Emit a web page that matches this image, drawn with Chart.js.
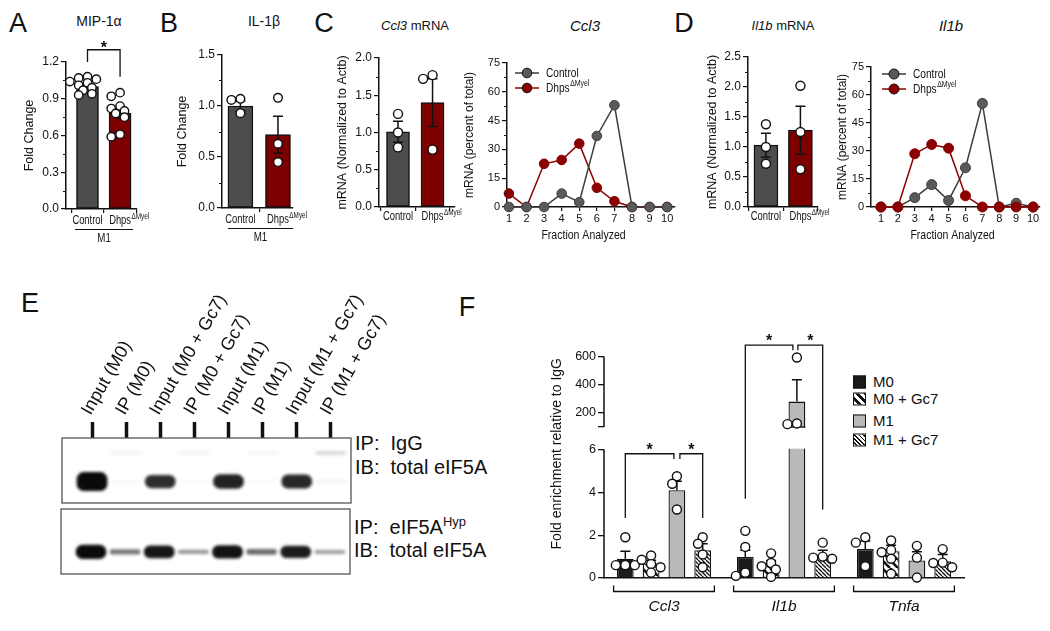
<!DOCTYPE html>
<html>
<head>
<meta charset="utf-8">
<title>Dhps / eIF5A figure</title>
<script src="https://cdn.jsdelivr.net/npm/chart.js@4.4.1/dist/chart.umd.min.js"></script>
<style>
  body { margin: 0; width: 1050px; height: 631px; background: #fff; position: relative; overflow: hidden;
         font-family: Arial, "Liberation Sans", Helvetica, sans-serif; color: #111; }
  canvas { position: absolute; }
  .t { position: absolute; white-space: nowrap; line-height: 1; transform: translate(-50%, -50%); }
  .l { position: absolute; white-space: nowrap; line-height: 1; transform: translateY(-50%); }
  .letter { font-size: 27px; }
  .sup { font-size: 13px; position: relative; top: -8px; }
  .leg { position: absolute; left: 853px; font-size: 15px; line-height: 1; transform: translateY(-50%); white-space: nowrap; }
  .sw { display: inline-block; width: 13px; height: 13px; border: 1.3px solid #111; box-sizing: border-box;
        vertical-align: -2px; margin-right: 7px; }
</style>
</head>
<body>
<div class="t letter" style="left:18px;top:23px">A</div>
<div class="t letter" style="left:169px;top:23px">B</div>
<div class="t letter" style="left:324px;top:23px">C</div>
<div class="t letter" style="left:684px;top:23px">D</div>
<div class="t letter" style="left:30px;top:303px">E</div>
<div class="t letter" style="left:467px;top:307px">F</div>

<div class="t" style="left:99px;top:21px;font-size:14px">MIP-1α</div>
<div class="t" style="left:264px;top:21px;font-size:14px">IL-1β</div>
<div class="t" style="left:415px;top:25px;font-size:13px"><i>Ccl3</i> mRNA</div>
<div class="t" style="left:585px;top:25px;font-size:15px"><i>Ccl3</i></div>
<div class="t" style="left:783px;top:25px;font-size:13px"><i>Il1b</i> mRNA</div>
<div class="t" style="left:951px;top:25px;font-size:15px"><i>Il1b</i></div>

<div class="l" style="left:355px;top:443px;font-size:20px">IP:&nbsp;&nbsp;IgG</div>
<div class="l" style="left:355px;top:467px;font-size:20px">IB:&nbsp;&nbsp;total eIF5A</div>
<div class="l" style="left:354px;top:527px;font-size:20px">IP:&nbsp;&nbsp;eIF5A<span class="sup">Hyp</span></div>
<div class="l" style="left:354px;top:550px;font-size:20px">IB:&nbsp;&nbsp;total eIF5A</div>

<div class="leg" style="top:381px"><span class="sw" style="background:#1a1a1a"></span>M0</div>
<div class="leg" style="top:398px"><span class="sw" style="background:repeating-linear-gradient(45deg,#fff 0 3px,#111 3px 5.5px)"></span>M0 + Gc7</div>
<div class="leg" style="top:420px"><span class="sw" style="background:#b9b9b9"></span>M1</div>
<div class="leg" style="top:439px"><span class="sw" style="background:repeating-linear-gradient(45deg,#fff 0 1.6px,#111 1.6px 2.9px)"></span>M1 + Gc7</div>

<canvas id="cA" width="150" height="210" style="left:14px;top:36px"></canvas>
<canvas id="cB" width="150" height="215" style="left:170px;top:30px"></canvas>
<canvas id="cC1" width="148" height="205" style="left:330px;top:32px"></canvas>
<canvas id="cC2" width="225" height="205" style="left:455px;top:40px"></canvas>
<canvas id="cD1" width="140" height="205" style="left:700px;top:31px"></canvas>
<canvas id="cD2" width="218" height="201" style="left:830px;top:44px"></canvas>
<canvas id="cE1" width="420" height="236" style="left:20px;top:270px"></canvas>
<canvas id="cE2" width="420" height="72" style="left:20px;top:505px"></canvas>
<canvas id="cF" width="440" height="300" style="left:530px;top:320px"></canvas>

<script>
Chart.defaults.font.family = 'Arial, "Liberation Sans", Helvetica, sans-serif';
Chart.defaults.color = '#111';
const INK = '#111';
const SQUEEZE = 0.78; // the figure's small labels are set in a condensed face

// ---------- data ----------
const barLabels = ['Control', 'Dhps'];
const barLabelSup = ['', 'ΔMyel'];

// A: MIP-1α protein, fold change
const mipMean = [1.00, 0.78];
const mipSem = [0.02, 0.035];
const mipControl = [1.08, 1.07, 1.06, 1.04, 1.03, 1.01, 0.99, 0.97, 0.94, 0.93];
const mipDhps = [0.95, 0.92, 0.84, 0.82, 0.80, 0.78, 0.75, 0.61, 0.59];

// B: IL-1β protein, fold change
const il1Mean = [1.00, 0.72];
const il1Sem = [0.05, 0.18];
const il1Control = [1.07, 1.06, 0.93];
const il1Dhps = [1.08, 0.63, 0.45];

// C: Ccl3 mRNA normalized to Actb
const ccl3Mean = [1.01, 1.40];
const ccl3Sem = [0.14, 0.32];
const ccl3Control = [1.25, 1.00, 0.80];
const ccl3Dhps = [1.77, 1.72, 0.77];

// D: Il1b mRNA normalized to Actb
const il1bMean = [1.03, 1.28];
const il1bSem = [0.20, 0.40];
const il1bControl = [1.38, 1.00, 0.72];
const il1bDhps = [2.02, 1.25, 0.63];

// polysome fractions, mRNA percent of total
const seriesNames = ['Control', 'Dhps'];
const fractions = [1, 2, 3, 4, 5, 6, 7, 8, 9, 10];
const ccl3FracControl = [0, 0, 0, 7, 2.5, 37, 53, 0, 0, 0];
const ccl3FracDhps = [7, 0, 22.5, 24.5, 33, 10, 3, 0, 0, 0];
const il1bFracControl = [0, 0, 5, 12, 3.5, 21, 55.5, 0, 2, 0];
const il1bFracDhps = [0, 0, 28.5, 33.5, 31.5, 6, 0, 0, 0, 0];

// E: blot lanes and relative band darkness
const lanes = ['Input (M0)', 'IP (M0)', 'Input (M0 + Gc7)', 'IP (M0 + Gc7)',
               'Input (M1)', 'IP (M1)', 'Input (M1 + Gc7)', 'IP (M1 + Gc7)'];
const igGBand = [1.0, 0.03, 0.86, 0.02, 0.9, 0.02, 0.88, 0.06];
const igGFaint = [0, 0.06, 0, 0.05, 0, 0.04, 0, 0.15];
const hypBand = [1.0, 0.55, 0.95, 0.42, 0.97, 0.6, 0.93, 0.4];

// F: fold enrichment relative to IgG
const enrichGenes = ['Ccl3', 'Il1b', 'Tnfa'];
const enrichSeries = ['M0', 'M0 + Gc7', 'M1', 'M1 + Gc7'];
const m0Mean = [0.9, 0.98, 1.35];
const m0Sem = [0.35, 0.32, 0.38];
const m0gMean = [0.68, 0.62, 1.25];
const m0gSem = [0.15, 0.2, 0.28];
const m1Mean = [4.1, 280, 0.82];
const m1Sem = [0.42, 155, 0.4];
const m1gMean = [1.3, 1.05, 0.78];
const m1gSem = [0.3, 0.25, 0.32];
const m0Pts = [[1.9, 0.6, 0.6, 0.6], [2.2, 1.45, 0.25, 0.1], [1.9, 1.65, 0.55]];
const m0gPts = [[1.05, 0.85, 0.65, 0.5, 0.25], [1.15, 0.7, 0.55, 0.4, 0.05], [1.75, 1.3, 1.2, 0.9, 0.2]];
const m1Pts = [[4.75, 4.4, 3.2], [593, 125, 120], [1.5, 0.95, 0.02]];
const m1gPts = [[1.9, 1.6, 1.1, 0.5], [1.65, 1.0, 0.95, 0.9], [1.35, 0.72, 0.7, 0.5]];

// ---------- drawing helpers ----------
function swarm(ys, r, pack) {
  const placed = [], out = [];
  ys.forEach((y, i) => {
    for (let k = 0; k < 40; k++) {
      const d = Math.ceil(k / 2) * r * 1.05 * (k % 2 ? -1 : 1);
      if (placed.every(p => Math.hypot(p.x - d, p.y - y) >= r * pack)) {
        placed.push({x: d, y}); out[i] = d; break;
      }
    }
  });
  return out;
}

function drawError(ctx, x, py, mean, sem, cap, both) {
  const yt = py(mean + sem), yb = both ? py(mean - sem) : py(mean);
  ctx.strokeStyle = INK; ctx.lineWidth = 1.5;
  ctx.beginPath();
  ctx.moveTo(x, yb); ctx.lineTo(x, yt);
  ctx.moveTo(x - cap, yt); ctx.lineTo(x + cap, yt);
  if (both) { ctx.moveTo(x - cap, yb); ctx.lineTo(x + cap, yb); }
  ctx.stroke();
}

function drawDots(ctx, x, py, vals, r, pack) {
  const ys = vals.map(py);
  const dx = swarm(ys, r, pack);
  ctx.fillStyle = '#fff'; ctx.strokeStyle = INK; ctx.lineWidth = 1.4;
  ys.forEach((y, i) => {
    ctx.beginPath(); ctx.arc(x + dx[i], y, r, 0, Math.PI * 2); ctx.fill(); ctx.stroke();
  });
}

function drawSig(ctx, x1, x2, yTop, yL, yR, starDy) {
  ctx.strokeStyle = INK; ctx.lineWidth = 1.3;
  ctx.beginPath();
  ctx.moveTo(x1, yL); ctx.lineTo(x1, yTop); ctx.lineTo(x2, yTop); ctx.lineTo(x2, yR);
  ctx.stroke();
  ctx.fillStyle = INK; ctx.font = 'bold 16px Arial'; ctx.textAlign = 'center'; ctx.textBaseline = 'alphabetic';
  ctx.fillText('*', (x1 + x2) / 2, yTop + starDy);
}

function drawMinor(chart, step) {
  const ys = chart.scales.y, ctx = chart.ctx, x0 = chart.chartArea.left;
  ctx.save(); ctx.strokeStyle = INK; ctx.lineWidth = 1;
  for (let v = step / 2; v < ys.max; v += step) {
    const y = Math.round(ys.getPixelForValue(v)) + 0.5;
    ctx.beginPath(); ctx.moveTo(x0 - 3, y); ctx.lineTo(x0, y); ctx.stroke();
  }
  ctx.restore();
}

// condensed text; align 'center' centres the main word, a superscript hangs to its right
function drawLabel(ctx, text, sup, x, y, size, align) {
  ctx.save();
  ctx.translate(x, y); ctx.scale(SQUEEZE, 1);
  ctx.fillStyle = INK; ctx.textBaseline = 'middle';
  ctx.font = `${size}px Arial`;
  const w = ctx.measureText(text).width;
  const x0 = align === 'left' ? 0 : -w / 2;
  ctx.textAlign = 'left';
  ctx.fillText(text, x0, 0);
  if (sup) {
    ctx.font = `${size * 0.68}px Arial`;
    ctx.fillText(sup, x0 + w + 0.6, -size * 0.33);
  }
  ctx.restore();
}

// ---------- A-D bar panels ----------
function barPanel(id, g) {
  const decor = {
    id: 'barDecor',
    afterDatasetsDraw(chart) {
      const ctx = chart.ctx, ys = chart.scales.y, meta = chart.getDatasetMeta(0);
      const py = v => ys.getPixelForValue(v);
      ctx.save();
      meta.data.forEach((bar, i) => {
        drawError(ctx, bar.x, py, g.means[i], g.sems[i], 5, true);
        drawDots(ctx, bar.x, py, g.pts[i], g.r, g.pack);
      });
      ctx.restore();
    },
    afterDraw(chart) {
      const ctx = chart.ctx, a = chart.chartArea, ys = chart.scales.y, meta = chart.getDatasetMeta(0);
      drawMinor(chart, g.yStep);
      ctx.save();
      barLabels.forEach((t, i) => drawLabel(ctx, t, barLabelSup[i], meta.data[i].x, a.bottom + g.labelDy, 12));
      if (g.group) {
        const x1 = meta.data[0].x - 12.5, x2 = meta.data[1].x + g.group.ext, y = a.bottom + g.group.lineDy + 0.5;
        ctx.strokeStyle = INK; ctx.lineWidth = 1.2;
        ctx.beginPath(); ctx.moveTo(x1, y); ctx.lineTo(x2, y); ctx.stroke();
        drawLabel(ctx, g.group.text, '', (x1 + x2) / 2, a.bottom + g.group.textDy, 12.5);
      }
      if (g.sig) {
        const py = v => ys.getPixelForValue(v);
        drawSig(ctx, meta.data[0].x, meta.data[1].x, py(g.sig.top), py(g.sig.legs[0]), py(g.sig.legs[1]), 3);
      }
      ctx.restore();
    }
  };
  new Chart(document.getElementById(id), {
    type: 'bar',
    data: {datasets: [{
      data: g.means.map((m, i) => ({x: i, y: m})),
      backgroundColor: ['#4d4d4d', '#7d0000'], borderColor: INK, borderWidth: 1.5,
      borderSkipped: false, barThickness: g.bar
    }]},
    options: {
      responsive: false, animation: false,
      layout: {padding: g.pad},
      plugins: {legend: {display: false}, tooltip: {enabled: false}},
      scales: {
        x: {type: 'linear', offset: false, min: g.xMin, max: g.xMax,
            afterBuildTicks: s => { s.ticks = g.means.map((m, i) => ({value: i})); },
            afterFit: s => { s.height = g.xH; },
            ticks: {display: false},
            grid: {drawOnChartArea: false, tickLength: 4, color: INK, lineWidth: 1.2},
            border: {color: INK, width: 1.5}},
        y: {min: 0, max: g.yMax,
            afterFit: s => { s.width = g.yW; },
            ticks: {stepSize: g.yStep, font: {size: 12}, color: INK, padding: 2, callback: v => v.toFixed(1)},
            grid: {drawOnChartArea: false, tickLength: 5, color: INK, lineWidth: 1.2},
            border: {color: INK, width: 1.5},
            title: {display: true, text: g.title, color: INK, font: {size: 12.5},
                    padding: {top: g.titleX - 7.5, bottom: 0}}}
      }
    },
    plugins: [decor]
  });
}

barPanel('cA', {means: mipMean, sems: mipSem, pts: [mipControl, mipDhps],
  yMax: 1.2, yStep: 0.3, xMin: -0.66, xMax: 1.52, yW: 52, xH: 37,
  pad: {top: 26, right: 27}, title: 'Fold Change', titleX: 16, bar: 22, r: 4.2, pack: 1.45,
  labelDy: 12, group: {text: 'M1', lineDy: 20, textDy: 30, ext: 13},
  sig: {top: 1.30, legs: [1.2, 1.08]}});

barPanel('cB', {means: il1Mean, sems: il1Sem, pts: [il1Control, il1Dhps],
  yMax: 1.5, yStep: 0.5, xMin: -0.49, xMax: 1.4, yW: 52, xH: 37,
  pad: {top: 25, right: 27}, title: 'Fold Change', titleX: 13, bar: 25, r: 4.3, pack: 1.8,
  labelDy: 12, group: {text: 'M1', lineDy: 20, textDy: 30, ext: 15}});

barPanel('cC1', {means: ccl3Mean, sems: ccl3Sem, pts: [ccl3Control, ccl3Dhps],
  yMax: 2.0, yStep: 0.5, xMin: -0.55, xMax: 1.65, yW: 49, xH: 30,
  pad: {top: 26, right: 23}, title: 'mRNA (Normalized to Actb)', titleX: 13, bar: 23, r: 4.5, pack: 1.8,
  labelDy: 10});

barPanel('cD1', {means: il1bMean, sems: il1bSem, pts: [il1bControl, il1bDhps],
  yMax: 2.5, yStep: 0.5, xMin: -0.52, xMax: 1.51, yW: 48, xH: 29,
  pad: {top: 26, right: 22}, title: 'mRNA (Normalized to Actb)', titleX: 13, bar: 24, r: 4.5, pack: 1.8,
  labelDy: 10});

// ---------- C/D polysome line panels ----------
function linePanel(id, g) {
  const colors = [['#3d3d3d', '#5a5a5a'], ['#8b0000', '#8b0000']];
  const legend = {
    id: 'lineLegend',
    afterDraw(chart) {
      const ctx = chart.ctx, a = chart.chartArea, xs = chart.scales.x;
      drawMinor(chart, 15);
      ctx.save();
      seriesNames.forEach((name, i) => {
        const y = a.top + g.legY + i * 15, x0 = a.left + g.legX;
        ctx.strokeStyle = colors[i][0]; ctx.lineWidth = 1.5;
        ctx.beginPath(); ctx.moveTo(x0, y); ctx.lineTo(x0 + 24, y); ctx.stroke();
        ctx.fillStyle = colors[i][1]; ctx.strokeStyle = INK; ctx.lineWidth = 1;
        ctx.beginPath(); ctx.arc(x0 + 12, y, g.r, 0, Math.PI * 2); ctx.fill(); ctx.stroke();
        drawLabel(ctx, name, barLabelSup[i], x0 + 31, y, 13, 'left');
      });
      const mid = (xs.getPixelForValue(fractions[0]) + xs.getPixelForValue(fractions[fractions.length - 1])) / 2;
      drawLabel(ctx, 'Fraction Analyzed', '', mid - 4.5, a.bottom + 28, 13.5);
      ctx.restore();
    }
  };
  const series = [g.control, g.dhps];
  new Chart(document.getElementById(id), {
    type: 'line',
    data: {datasets: series.map((vals, k) => ({
      label: seriesNames[k],
      data: fractions.map((f, i) => ({x: f, y: vals[i]})),
      borderColor: colors[k][0], pointBackgroundColor: colors[k][1],
      order: g.order[k], clip: false
    }))},
    options: {
      responsive: false, animation: false,
      layout: {padding: g.pad},
      elements: {line: {borderWidth: 1.5, tension: 0},
                 point: {radius: g.r, hoverRadius: g.r, borderColor: INK, borderWidth: 1}},
      plugins: {legend: {display: false}, tooltip: {enabled: false}},
      scales: {
        x: {type: 'linear', min: g.xMin, max: g.xMax,
            afterBuildTicks: s => { s.ticks = fractions.map(v => ({value: v})); },
            afterFit: s => { s.height = 38; },
            ticks: {font: {size: 11}, color: INK, padding: 1},
            grid: {drawOnChartArea: false, tickLength: 4, color: INK, lineWidth: 1.2},
            border: {color: INK, width: 1.5}},
        y: {min: 0, max: 75,
            afterFit: s => { s.width = g.yW; },
            ticks: {stepSize: 15, font: {size: 11}, color: INK, padding: 2},
            grid: {drawOnChartArea: false, tickLength: 5, color: INK, lineWidth: 1.2},
            border: {color: INK, width: 1.5},
            title: {display: true, text: 'mRNA (percent of total)', color: INK, font: {size: 12},
                    padding: {top: g.titleX - 7.2, bottom: 0}}}
      }
    },
    plugins: [legend]
  });
}

linePanel('cC2', {control: ccl3FracControl, dhps: ccl3FracDhps, order: [0, 1],
  xMin: 0.89, xMax: 10.4, yW: 52, pad: {top: 23, right: 5}, titleX: 15, r: 4.8, legX: 8, legY: 10});
linePanel('cD2', {control: il1bFracControl, dhps: il1bFracDhps, order: [1, 0],
  xMin: 0.41, xMax: 10.41, yW: 41, pad: {top: 23, right: 8}, titleX: 13, r: 5, legX: 11, legY: 7});

// ---------- E: western blot ----------
const blotFrame = {
  id: 'blotFrame',
  beforeDatasetsDraw(chart) { chart.ctx.save(); chart.ctx.filter = 'blur(1.6px)'; },
  afterDatasetsDraw(chart) { chart.ctx.restore(); },
  afterDraw(chart) {
    const a = chart.chartArea, ctx = chart.ctx;
    ctx.save(); ctx.strokeStyle = '#555'; ctx.lineWidth = 1.3;
    ctx.strokeRect(a.left, a.top, a.width, a.height);
    ctx.restore();
  }
};
function bands(levels, center, half) {
  return levels.map((v, i) => ({x: i, y: [center - half(v), center + half(v)]}));
}
function bandInk(levels) {
  return levels.map(v => `rgba(10,10,10,${Math.min(1, v).toFixed(2)})`);
}
function blotOptions(pad, showLanes) {
  return {
    responsive: false, animation: false,
    layout: {padding: pad},
    plugins: {legend: {display: false}, tooltip: {enabled: false}},
    datasets: {bar: {grouped: false, barThickness: 30, borderRadius: 7, borderSkipped: false}},
    scales: {
      x: {type: 'linear', position: 'top', offset: false, min: -0.88, max: 7.59, display: showLanes,
          afterBuildTicks: s => { s.ticks = lanes.map((n, i) => ({value: i})); },
          afterFit: s => { if (showLanes) s.height = 168; },
          ticks: {minRotation: 60, maxRotation: 60, autoSkip: false, padding: 3, labelOffset: 13,
                  font: {size: 18}, color: INK, callback: (v, i) => lanes[i]},
          grid: {drawOnChartArea: false, offset: false, tickLength: 16, tickWidth: 3.5, tickColor: INK},
          border: {display: false}},
      y: {display: false, min: 0, max: 1}
    }
  };
}

new Chart(document.getElementById('cE1'), {
  type: 'bar',
  data: {datasets: [
    {data: bands(igGBand, 0.33, v => 0.02 + 0.12 * v * v * v), backgroundColor: bandInk(igGBand)},
    {data: bands(igGFaint, 0.77, v => 0.025), backgroundColor: bandInk(igGFaint)}
  ]},
  options: blotOptions({left: 42, right: 89, top: 0, bottom: 3}, true),
  plugins: [blotFrame]
});

new Chart(document.getElementById('cE2'), {
  type: 'bar',
  data: {datasets: [
    {data: bands(hypBand, 0.34, v => 0.02 + 0.085 * v * v * v), backgroundColor: bandInk(hypBand)}
  ]},
  options: blotOptions({left: 41, right: 90, top: 4, bottom: 3}, false),
  plugins: [blotFrame]
});

// ---------- F: fold enrichment with broken axis ----------
const lowMax = 6;
const toV = v => v <= lowMax ? v : 7.05 + (v - 100) * 0.00658;
const yTickRaw = [0, 2, 4, 6, 100, 200, 400, 600];
const fMeans = [m0Mean, m0gMean, m1Mean, m1gMean];
const fSems = [m0Sem, m0gSem, m1Sem, m1gSem];
const fPts = [m0Pts, m0gPts, m1Pts, m1gPts];
const sigF = [
  {gene: 0, from: 0, to: 2, top: 5.8, legs: [2.8, 5.55], trimTo: 3},
  {gene: 0, from: 2, to: 3, top: 5.8, legs: [5.55, 2.8], trimFrom: 3},
  {gene: 1, from: 0, to: 2, top: 680, legs: [3.7, 645], trimTo: 4},
  {gene: 1, from: 2, to: 3, top: 680, legs: [645, 3.2], trimFrom: 1}
];

const fCtx = document.getElementById('cF').getContext('2d');
function stripes(gap, lw) {
  const c = document.createElement('canvas'); c.width = c.height = gap;
  const g = c.getContext('2d');
  g.fillStyle = '#fff'; g.fillRect(0, 0, gap, gap);
  g.strokeStyle = INK; g.lineWidth = lw;
  for (const k of [-gap, 0, gap]) { g.beginPath(); g.moveTo(k, 0); g.lineTo(k + gap, gap); g.stroke(); }
  return fCtx.createPattern(c, 'repeat');
}
const fFills = ['#1a1a1a', stripes(8, 2.6), '#b9b9b9', stripes(4, 1.3)];

const fDecor = {
  id: 'fDecor',
  afterDatasetsDraw(chart) {
    const ctx = chart.ctx, ys = chart.scales.y;
    const py = v => ys.getPixelForValue(toV(v));
    ctx.save();
    fMeans.forEach((means, k) => {
      chart.getDatasetMeta(k).data.forEach((bar, i) => {
        if (means[i] > lowMax) {
          const yTop = py(100), yBot = py(lowMax);
          ctx.fillStyle = '#fff';
          ctx.fillRect(bar.x - bar.width / 2 - 1, yTop + 0.8, bar.width + 2, yBot - yTop - 1.6);
          ctx.strokeStyle = INK; ctx.lineWidth = 1.3;
          ctx.beginPath(); ctx.moveTo(bar.x - bar.width / 2, yTop); ctx.lineTo(bar.x + bar.width / 2, yTop); ctx.stroke();
        }
        drawError(ctx, bar.x, py, means[i], fSems[k][i], 5, false);
        drawDots(ctx, bar.x, py, fPts[k][i], 4.5, 1.7);
      });
    });
    ctx.restore();
  },
  afterDraw(chart) {
    const ctx = chart.ctx, a = chart.chartArea, ys = chart.scales.y, xs = chart.scales.x;
    const py = v => ys.getPixelForValue(toV(v));
    ctx.save();
    ctx.strokeStyle = INK; ctx.lineWidth = 1.5;
    ctx.beginPath();
    ctx.moveTo(a.left, py(0)); ctx.lineTo(a.left, py(lowMax));
    ctx.moveTo(a.left, py(100)); ctx.lineTo(a.left, py(600));
    ctx.stroke();
    const catW = (a.right - a.left) / enrichGenes.length;
    enrichGenes.forEach((gene, i) => {
      const cx = xs.getPixelForValue(i), half = catW * 0.42, yb = a.bottom + 13.5;
      ctx.lineWidth = 1.3;
      ctx.beginPath();
      ctx.moveTo(cx - half, yb - 6); ctx.lineTo(cx - half, yb); ctx.lineTo(cx + half, yb); ctx.lineTo(cx + half, yb - 6);
      ctx.stroke();
      ctx.fillStyle = INK; ctx.font = 'italic 15.5px Arial'; ctx.textAlign = 'center'; ctx.textBaseline = 'middle';
      ctx.fillText(gene, cx, a.bottom + 29);
    });
    sigF.forEach(s => {
      const x1 = chart.getDatasetMeta(s.from).data[s.gene].x + (s.trimFrom || 0);
      const x2 = chart.getDatasetMeta(s.to).data[s.gene].x - (s.trimTo || 0);
      drawSig(ctx, x1, x2, py(s.top), py(s.legs[0]), py(s.legs[1]), 1);
    });
    ctx.restore();
  }
};

new Chart(fCtx, {
  type: 'bar',
  data: {
    labels: enrichGenes,
    datasets: enrichSeries.map((name, k) => ({
      label: name, data: fMeans[k].map(toV), backgroundColor: fFills[k],
      borderColor: INK, borderWidth: 1.3, categoryPercentage: 0.86, barPercentage: 0.65
    }))
  },
  options: {
    responsive: false, animation: false,
    layout: {padding: {top: 7, right: 6}},
    plugins: {legend: {display: false}, tooltip: {enabled: false}},
    scales: {
      x: {afterFit: s => { s.height = 42; },
          ticks: {display: false}, grid: {display: false},
          border: {color: INK, width: 1.5}},
      y: {min: 0, max: 11.6,
          afterFit: s => { s.width = 74; },
          afterBuildTicks: s => { s.ticks = yTickRaw.map(v => ({value: toV(v)})); },
          ticks: {font: {size: 12.5}, color: INK, padding: 2,
                  callback: (v, i) => yTickRaw[i] === 100 ? '' : String(yTickRaw[i])},
          grid: {drawOnChartArea: false, tickLength: 6, color: INK, lineWidth: 1.3},
          border: {display: false},
          title: {display: true, text: 'Fold enrichment relative to IgG', color: INK,
                  font: {size: 14}, padding: {top: 27 - 8.4, bottom: 0}}}
    }
  },
  plugins: [fDecor]
});
</script>
</body>
</html>
